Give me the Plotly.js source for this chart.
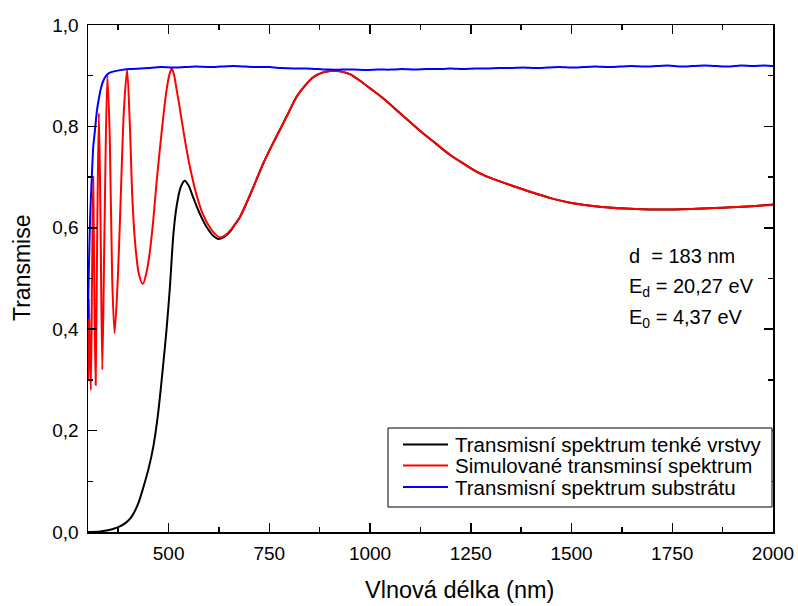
<!DOCTYPE html>
<html>
<head>
<meta charset="utf-8">
<script src="https://cdn.plot.ly/plotly-3.0.1.min.js"></script>
<style>html,body{margin:0;padding:0;background:#fff;}#chart{width:798px;height:606px;}</style>
</head>
<body>
<div id="chart"></div>
<script>
// Transmisní spektrum tenké vrstvy (measured film)
const blackNm = [300,330,346,362,379,395,404,412,425,437,450,462,474,487,495,503,512,520,530,540,550,561,570,582,594,610,625,640,652,665,677,694,715,735,755,776,797,818,838,859,885,909,930,950,975,1000,1033,1066,1100,1132,1165,1198,1231,1264,1297,1331,1364,1397,1450,1500,1575,1659,1743,1828,1912,2000];
const blackT  = [0.000,0.001,0.003,0.006,0.011,0.019,0.026,0.035,0.057,0.087,0.124,0.168,0.234,0.333,0.400,0.480,0.588,0.643,0.680,0.693,0.683,0.660,0.642,0.620,0.602,0.585,0.578,0.583,0.592,0.607,0.621,0.650,0.689,0.727,0.760,0.793,0.826,0.859,0.880,0.897,0.907,0.910,0.908,0.903,0.890,0.875,0.855,0.832,0.808,0.786,0.765,0.744,0.727,0.711,0.699,0.689,0.680,0.671,0.658,0.649,0.641,0.637,0.636,0.638,0.641,0.646];

// Simulované transminsí spektrum (simulated)
const redNm = [300,302,304.5,307,310,313,316,319,323,327,331,335.5,341,348,354,360,366,374,381,389,397,404,410,417,426,436,446,454,462,470,479,487,495,503,508,514,520,526,532,545,557,570,585,603,615,628,640,652,665,677,694,715,735,755,776,797,818,838,859,885,909,930,950,975,1000,1033,1066,1100,1132,1165,1198,1231,1264,1297,1331,1364,1397,1450,1500,1575,1659,1743,1828,1912,2000];
const redT  = [0.300,0.460,0.350,0.280,0.500,0.700,0.450,0.290,0.600,0.826,0.620,0.320,0.600,0.900,0.780,0.500,0.392,0.500,0.655,0.830,0.912,0.800,0.660,0.570,0.510,0.489,0.515,0.556,0.615,0.688,0.760,0.820,0.872,0.905,0.914,0.900,0.872,0.845,0.815,0.753,0.705,0.663,0.627,0.600,0.588,0.581,0.585,0.594,0.607,0.621,0.650,0.689,0.727,0.760,0.793,0.826,0.859,0.880,0.897,0.907,0.910,0.908,0.903,0.890,0.875,0.855,0.832,0.808,0.786,0.765,0.744,0.727,0.711,0.699,0.689,0.680,0.671,0.658,0.649,0.641,0.637,0.636,0.638,0.641,0.645];

// Transmisní spektrum substrátu (substrate)
const blueNm = [300,301,303,305,307,310,313,317,322,327,332,338,345,352,362,380,404,430,450,480,510,540,570,600,630,660,690,720,750,780,810,840,870,900,930,960,990,1020,1050,1080,1110,1140,1170,1200,1230,1260,1290,1320,1350,1380,1410,1440,1470,1500,1530,1560,1590,1620,1650,1680,1710,1740,1770,1800,1830,1860,1890,1920,1950,1980,2000];
const blueT  = [0.420,0.470,0.550,0.610,0.655,0.710,0.760,0.790,0.830,0.855,0.875,0.890,0.900,0.905,0.908,0.911,0.913,0.914,0.915,0.917,0.916,0.917,0.918,0.917,0.918,0.919,0.918,0.917,0.917,0.915,0.914,0.914,0.913,0.912,0.912,0.912,0.911,0.912,0.912,0.913,0.912,0.913,0.913,0.914,0.913,0.914,0.914,0.915,0.915,0.916,0.915,0.916,0.917,0.916,0.917,0.918,0.917,0.918,0.919,0.918,0.919,0.920,0.918,0.919,0.920,0.919,0.918,0.920,0.919,0.920,0.919];

const seriesNames = ['Transmisní spektrum tenké vrstvy','Simulované transminsí spektrum','Transmisní spektrum substrátu'];
const seriesColors = ['#000000','#ff0000','#0000ff'];
const annoTexts = ['d\u00a0\u00a0= 183 nm','E<sub>d</sub> = 20,27 eV','E<sub>0</sub> = 4,37 eV'];
const xTitle = 'Vlnová délka (nm)';
const yTitle = 'Transmise';

const FONT = 'Liberation Sans, Arial, sans-serif';

// plot box in pixels (for placing legend / labels in paper coordinates)
const PL = 88, PR = 773, PT = 25, PB = 532;
const px = v => (v - PL) / (PR - PL);
const py = v => (PB - v) / (PB - PT);

const traces = [
  {x: blackNm, y: blackT, name: seriesNames[0], type: 'scatter', mode: 'lines', line: {color: seriesColors[0], width: 2, shape: 'spline', smoothing: 0.8}},
  {x: redNm, y: redT, name: seriesNames[1], type: 'scatter', mode: 'lines', line: {color: seriesColors[1], width: 2, shape: 'spline', smoothing: 0.8}},
  {x: blueNm, y: blueT, name: seriesNames[2], type: 'scatter', mode: 'lines', line: {color: seriesColors[2], width: 2, shape: 'spline', smoothing: 0.6}}
];

const axisCommon = {
  showline: true, linecolor: '#000', linewidth: 1.5, mirror: 'allticks',
  ticks: 'inside', ticklen: 9, tickwidth: 1.5, tickcolor: '#000',
  showgrid: false, zeroline: false, ticklabelstandoff: 4,
  tickfont: {family: FONT, size: 19, color: '#000'}
};

// legend drawn as box + line samples + texts
const legRows = [444.5, 465.5, 487];
const shapes = [
  {type: 'rect', xref: 'paper', yref: 'paper', x0: px(388), x1: px(772), y0: py(507), y1: py(428),
   line: {color: '#000', width: 1}, fillcolor: '#ffffff', layer: 'above'}
];
legRows.forEach((r, i) => shapes.push({type: 'line', xref: 'paper', yref: 'paper', x0: px(403), x1: px(448), y0: py(r), y1: py(r),
  line: {color: seriesColors[i], width: 2}, layer: 'above'}));

const annotations = annoTexts.map((t, i) => ({
  text: t, xref: 'paper', yref: 'paper', x: px(627), y: py([256, 287, 318][i]),
  xanchor: 'left', yanchor: 'middle', showarrow: false,
  font: {family: FONT, size: 20, color: '#000'}
}));
legRows.forEach((r, i) => annotations.push({
  text: seriesNames[i], xref: 'paper', yref: 'paper', x: px(453), y: py(r),
  xanchor: 'left', yanchor: 'middle', showarrow: false,
  font: {family: FONT, size: 20.5, color: '#000'}
}));
annotations.push({text: xTitle, xref: 'paper', yref: 'paper', x: px(459), y: py(590),
  xanchor: 'center', yanchor: 'middle', showarrow: false, font: {family: FONT, size: 23.5, color: '#000'}});
annotations.push({text: yTitle, xref: 'paper', yref: 'paper', x: px(22), y: py(268), textangle: -90,
  xanchor: 'center', yanchor: 'middle', showarrow: false, font: {family: FONT, size: 23, color: '#000'}});

const layout = {
  width: 798, height: 606,
  margin: {l: PL, r: 798 - PR, t: PT, b: 606 - PB},
  paper_bgcolor: '#fff', plot_bgcolor: '#fff',
  separators: ', ',
  font: {family: FONT, color: '#000'},
  showlegend: false,
  xaxis: Object.assign({}, axisCommon, {
    range: [300, 2000], tick0: 0, dtick: 250,
    minor: {ticks: 'inside', ticklen: 5, tickwidth: 1.5, tickcolor: '#000', dtick: 125, tick0: 0}
  }),
  yaxis: Object.assign({}, axisCommon, {
    range: [0, 1], tick0: 0, dtick: 0.2, tickformat: '.1f',
    minor: {ticks: 'inside', ticklen: 5, tickwidth: 1.5, tickcolor: '#000', dtick: 0.1, tick0: 0}
  }),
  shapes: shapes,
  annotations: annotations
};

Plotly.newPlot('chart', traces, layout, {displayModeBar: false, staticPlot: true});
</script>
</body>
</html>
